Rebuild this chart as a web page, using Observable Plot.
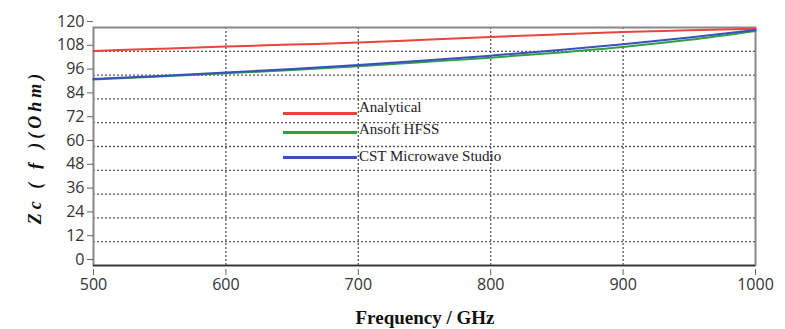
<!DOCTYPE html>
<html><head><meta charset="utf-8">
<script src="https://cdn.jsdelivr.net/npm/d3@7"></script>
<script src="https://cdn.jsdelivr.net/npm/@observablehq/plot@0.6"></script>
<style>
body{margin:0;background:#fff;}
#wrap{position:relative;width:785px;height:329px;}
#wrap svg{position:absolute;left:0;top:0;}
.leg{position:absolute;font-family:"Liberation Serif",serif;font-size:15px;color:#222;}
.legline{position:absolute;height:3px;}
#ytitle{position:absolute;left:35px;top:147px;transform:translate(-50%,-50%) rotate(-90deg);font-family:"Liberation Serif",serif;font-style:italic;font-weight:bold;font-size:18px;letter-spacing:4px;white-space:nowrap;color:#111;}
#xtitle{position:absolute;left:425px;top:318px;transform:translate(-50%,-50%);font-family:"Liberation Serif",serif;font-weight:bold;font-size:19px;white-space:nowrap;color:#111;}
</style></head>
<body><div id="wrap"></div>
<script>
const freq = [500,550,600,650,700,750,800,850,900,950,1000];
const analytical = [108.2,109.3,110.4,111.4,112.4,113.8,115.2,116.5,117.7,118.6,119.4];
const hfss = [93.8,95.3,96.9,98.6,100.5,102.6,104.8,107.3,110.2,113.8,118.3];
const cst = [94.0,95.6,97.3,99.1,101.1,103.3,105.8,108.5,111.6,115.0,118.7];
const seriesNames = ["Analytical","Ansoft HFSS","CST Microwave Studio"];
const seriesColors = ["#e8453c","#2ea043","#3a4fc0"];
const xTicks = [500,600,700,800,900,1000];
const yTicks = [0,12,24,36,48,60,72,84,96,108,120];

const rows = [];
[analytical,hfss,cst].forEach((arr,i)=>arr.forEach((v,j)=>rows.push({f:freq[j],z:v,s:seriesNames[i]})));

const chart = Plot.plot({
  width:785, height:329,
  marginLeft:93, marginRight:30, marginTop:27, marginBottom:64,
  style:{fontFamily:"'Open Sans',sans-serif",fontSize:"16px",color:"#333",background:"#fff"},
  x:{domain:[500,1000],label:null},
  y:{domain:[0,120],label:null},
  color:{domain:seriesNames,range:seriesColors},
  marks:[
    Plot.gridX(xTicks.filter(d=>d>500&&d<1000),{stroke:"#444",strokeOpacity:0.9,strokeDasharray:"2,2",strokeWidth:1.3}),
    Plot.gridY(yTicks.filter(d=>d>0&&d<120),{stroke:"#444",strokeOpacity:0.9,strokeDasharray:"2,2",strokeWidth:1.3}),
    Plot.frame({stroke:"#888",strokeWidth:2}),
    Plot.axisX({ticks:xTicks,tickFormat:d3.format("d"),tickSize:6,stroke:"#666",fontSize:16,dy:4}),
    Plot.axisY({ticks:yTicks,tickFormat:d3.format("d"),tickSize:6,stroke:"#666",fontSize:16,dy:-6}),
    Plot.ruleY([0],{stroke:"#333",strokeWidth:1.5}),
    Plot.line(rows,{x:"f",y:"z",stroke:"s",strokeWidth:2,curve:"monotone-x"})
  ]
});
const wrap = document.getElementById("wrap");
wrap.appendChild(chart);

const legTops=[113,132,157];
seriesNames.forEach((n,i)=>{
  const l=document.createElement("div");l.className="legline";
  l.style.left="283px";l.style.width="74px";l.style.top=(legTops[i]-1)+"px";l.style.background=seriesColors[i];
  wrap.appendChild(l);
  const t=document.createElement("div");t.className="leg";t.textContent=n;
  t.style.left="359px";t.style.top=(legTops[i]-(i==0?14:i==1?11:9))+"px";
  wrap.appendChild(t);
});
const yt=document.createElement("div");yt.id="ytitle";yt.textContent="Zc ( ƒ )(Ohm)";wrap.appendChild(yt);
const xt=document.createElement("div");xt.id="xtitle";xt.textContent="Frequency / GHz";wrap.appendChild(xt);
</script></body></html>
